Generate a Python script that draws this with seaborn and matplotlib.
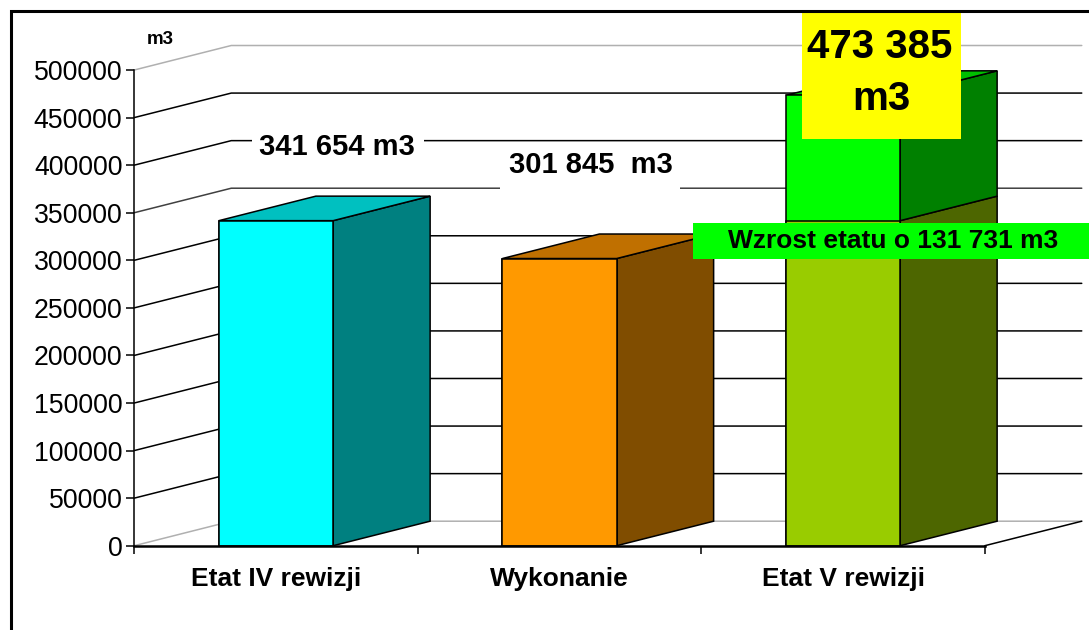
import matplotlib
matplotlib.use("Agg")
import matplotlib.pyplot as plt
from matplotlib.patches import Rectangle
import pandas as pd
import seaborn as sns

categories = ['Etat IV rewizji', 'Wykonanie', 'Etat V rewizji']
base_values = [341654, 301845, 341654]
total_values = [341654, 301845, 473385]
y_ticks = [0, 50000, 100000, 150000, 200000, 250000, 300000, 350000, 400000, 450000, 500000]

front_low = ['#00FFFF', '#FF9900', '#99CC00']
side_low = ['#008080', '#804D00', '#4D6600']
top_colors = ['#00C0C0', '#C07000', '#00C000']
front_high = '#00FF00'
side_high = '#008000'

W, H = 1089, 630
BAR_W = 0.403
DX = 0.342      # depth of the 3d box, in category units
DY = 25750      # depth of the 3d box, in m3

sns.set_style("ticks")
plt.rcParams['font.family'] = ['Liberation Sans', 'DejaVu Sans']
plt.rcParams['text.color'] = 'black'

fig = plt.figure(figsize=(W / 100, H / 100), dpi=100)
ax = fig.add_axes([134.3 / W, (H - 545.7) / H, 850.5 / W, 475.7 / H])
ax.patch.set_alpha(0)

df = pd.DataFrame({'cat': categories, 'base': base_values, 'total': total_values})

# back wall and left wall lines
for v in y_ticks:
    c = '#b0b0b0' if v in (0, 500000) else ('#404040' if v == 350000 else 'black')
    ax.plot([-0.5, -0.5 + DX, 2.5 + DX], [v, v + DY, v + DY], color=c, lw=1.1,
            clip_on=False, zorder=1)
ax.plot([2.5, 2.5 + DX], [0, DY], color='black', lw=1.1, clip_on=False, zorder=1)

# front faces
sns.barplot(data=df, x='cat', y='total', hue='cat', palette=[front_low[0], front_low[1], front_high],
            width=BAR_W, edgecolor='black', linewidth=1.1, legend=False, ax=ax, zorder=4,
            saturation=1)
sns.barplot(data=df, x='cat', y='base', hue='cat', palette=front_low,
            width=BAR_W, edgecolor='black', linewidth=1.1, legend=False, ax=ax, zorder=5,
            saturation=1)


def box_side(i, y0, y1, color):
    x1 = i + BAR_W / 2
    ax.fill([x1, x1 + DX, x1 + DX, x1], [y0, y0 + DY, y1 + DY, y1], facecolor=color,
            edgecolor='black', lw=1.1, clip_on=False, zorder=3)


def box_top(i, y, color):
    x0, x1 = i - BAR_W / 2, i + BAR_W / 2
    ax.fill([x0, x1, x1 + DX, x0 + DX], [y, y, y + DY, y + DY], facecolor=color,
            edgecolor='black', lw=1.1, clip_on=False, zorder=3)


for i in range(len(categories)):
    box_side(i, 0, base_values[i], side_low[i])
    if total_values[i] > base_values[i]:
        box_side(i, base_values[i], total_values[i], side_high)
    box_top(i, total_values[i], top_colors[i])

ax.set_xlim(-0.5, 2.5)
ax.set_ylim(0, 500000)
ax.set_xlabel('')
ax.set_ylabel('')
ax.set_yticks(y_ticks)
ax.set_xticks(range(len(categories)))
ax.set_xticklabels(categories, fontsize=19, fontweight='bold', color='black')
ax.set_xticks([-0.5, 0.5, 1.5, 2.5], minor=True)
ax.tick_params(axis='x', which='major', length=0, pad=15)
ax.tick_params(axis='x', which='minor', length=6, width=1.1, color='black')
ax.tick_params(axis='y', length=5.5, width=1.1, color='black', labelsize=19.2, pad=3,
               labelcolor='black')
sns.despine(ax=ax)
ax.spines['left'].set_linewidth(1.1)
ax.spines['left'].set_color('black')
ax.spines['bottom'].set_linewidth(1.8)
ax.spines['bottom'].set_color('black')
for s in ax.spines.values():
    s.set_zorder(6)


def fx(px):
    return px / W


def fy(py):
    return 1 - py / H


def box(x0, y0, x1, y1, color):
    fig.add_artist(Rectangle((fx(x0), fy(y1)), (x1 - x0) / W, (y1 - y0) / H,
                             transform=fig.transFigure, facecolor=color, edgecolor='none', zorder=2))


# white patches behind the value labels hide the wall lines
box(252, 128, 424, 168, 'white')
box(500, 146, 680, 192, 'white')
box(802, 11, 961, 139, '#FFFF00')
box(693, 223, 1089, 259, '#00FF00')

# chart frame
fig.add_artist(Rectangle((fx(10.5), fy(H + 5)), (W + 5) / W, (H + 5 - 11) / H,
                         transform=fig.transFigure, facecolor='none', edgecolor='black',
                         lw=2.2, zorder=2.5))

fig.text(fx(160), fy(39), 'm3', fontsize=13.5, fontweight='bold', ha='center', va='center')
fig.text(fx(337), fy(147), '341 654 m3', fontsize=21, fontweight='bold', ha='center', va='center')
fig.text(fx(591), fy(165), '301 845  m3', fontsize=21, fontweight='bold', ha='center', va='center')
fig.text(fx(880), fy(47), '473 385', fontsize=29, fontweight='bold', ha='center', va='center')
fig.text(fx(881), fy(99), 'm3', fontsize=29, fontweight='bold', ha='center', va='center')
fig.text(fx(893), fy(241), 'Wzrost etatu o 131 731 m3', fontsize=19, fontweight='bold',
         ha='center', va='center')

fig.savefig('out.png', dpi=100)
